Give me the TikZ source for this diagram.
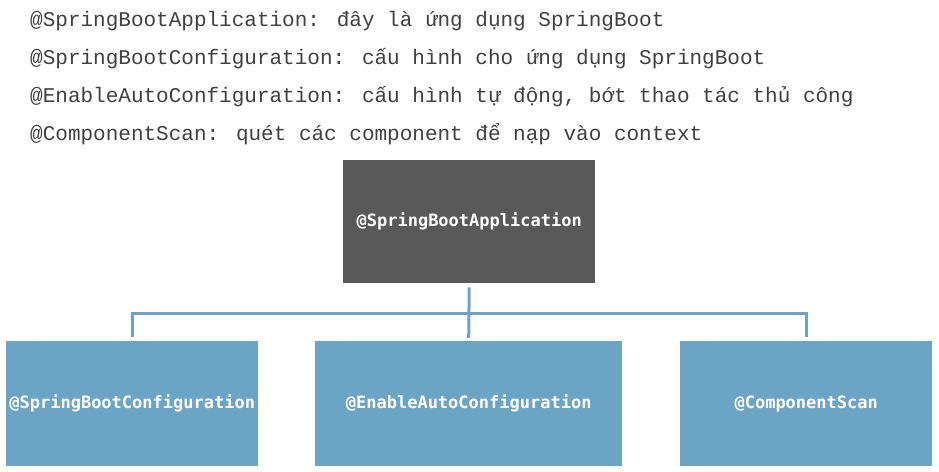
\documentclass[tikz,border=0pt]{standalone}
\usepackage{fontspec}
\setmonofont{DejaVu Sans Mono}
\newfontfamily\descfont{Liberation Mono}
\definecolor{txtgray}{HTML}{404040}
\definecolor{darkbox}{HTML}{595959}
\definecolor{bluebox}{HTML}{6CA4C6}
\definecolor{connblue}{HTML}{6FA2C2}
\begin{document}
\begin{tikzpicture}[x=1pt,y=-1pt,
  desc/.style={anchor=base west,inner sep=0pt,font=\descfont\fontsize{21}{24}\selectfont,text=txtgray},
  box/.style={rectangle,inner sep=0pt,anchor=north west,text=white,font=\ttfamily\bfseries\fontsize{17}{20}\selectfont},
  conn/.style={draw=connblue,line width=3pt}]
\useasboundingbox (0,0) rectangle (939,471);
\node[desc] (d1) at (30,26) {@SpringBootApplication: đây là ứng dụng SpringBoot};
\node[desc] (d2) at (30,64) {@SpringBootConfiguration: cấu hình cho ứng dụng SpringBoot};
\node[desc] (d3) at (30,102) {@EnableAutoConfiguration: cấu hình tự động, bớt thao tác thủ công};
\node[desc] (d4) at (30,140) {@ComponentScan: quét các component để nạp vào context};
\node[box,fill=darkbox,minimum width=252pt,minimum height=123pt] (top) at (343,160) {@SpringBootApplication};
\node[box,fill=bluebox,minimum width=252pt,minimum height=125pt] (left) at (6,341) {@SpringBootConfiguration};
\node[box,fill=bluebox,minimum width=307pt,minimum height=125pt] (mid) at (315,341) {@EnableAutoConfiguration};
\node[box,fill=bluebox,minimum width=252pt,minimum height=125pt] (right) at (680,341) {@ComponentScan};
\coordinate (bus) at (469,313);
\draw[conn] ([yshift=-4pt]top.south) -- ([yshift=3pt]mid.north);
\draw[conn] ([yshift=4pt]left.north) |- (bus) -| ([yshift=4pt]right.north);
\end{tikzpicture}
\end{document}
